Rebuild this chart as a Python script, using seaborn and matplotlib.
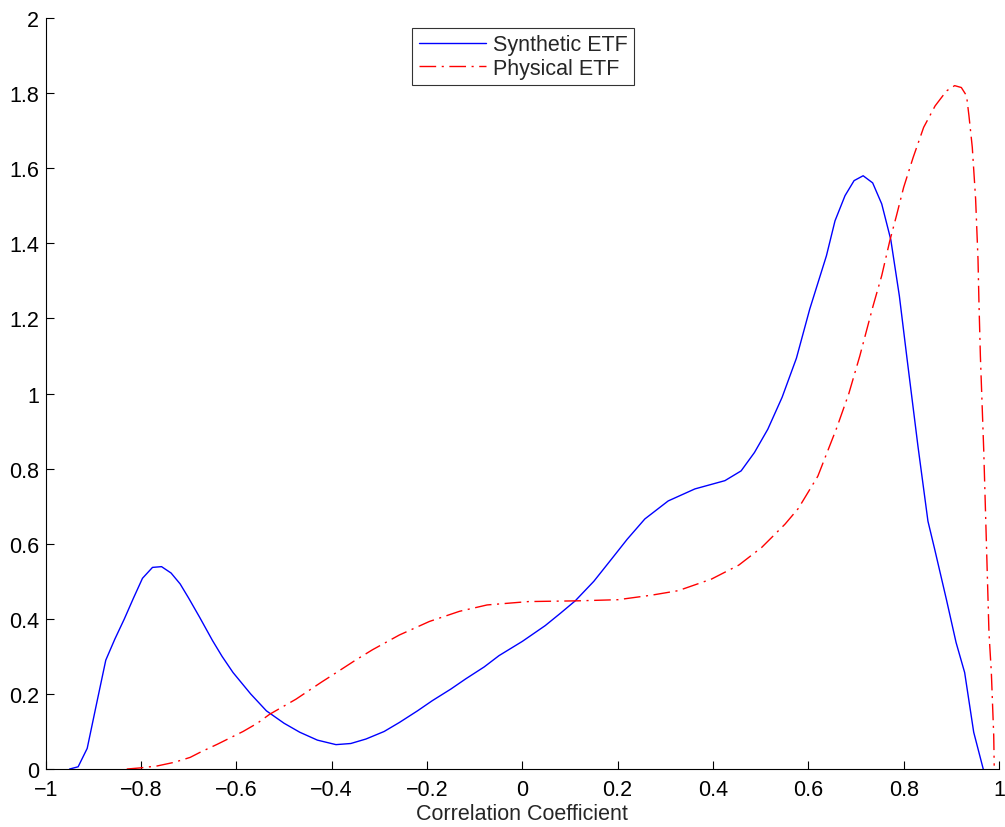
import numpy as np
import pandas as pd
import matplotlib
matplotlib.use("Agg")
import matplotlib.pyplot as plt
import seaborn as sns

# Synthetic ETF density
syn_x = [-0.95, -0.932, -0.913, -0.894, -0.874, -0.855, -0.835, -0.816, -0.797, -0.776,
         -0.757, -0.737, -0.718, -0.70, -0.677, -0.65, -0.63, -0.607, -0.57, -0.537,
         -0.50, -0.467, -0.43, -0.391, -0.36, -0.328, -0.29, -0.258, -0.22, -0.189,
         -0.15, -0.119, -0.08, -0.049, 0.0, 0.048, 0.08, 0.111, 0.15, 0.187,
         0.22, 0.257, 0.306, 0.362, 0.425, 0.459, 0.487, 0.515, 0.545, 0.575,
         0.603, 0.638, 0.656, 0.677, 0.696, 0.715, 0.735, 0.754, 0.773, 0.791,
         0.807, 0.83, 0.851, 0.865, 0.89, 0.91, 0.928, 0.947, 0.967]
syn_y = [0.0, 0.006, 0.055, 0.17, 0.29, 0.346, 0.40, 0.455, 0.508, 0.537,
         0.539, 0.522, 0.493, 0.455, 0.404, 0.342, 0.30, 0.257, 0.20, 0.155,
         0.122, 0.098, 0.077, 0.065, 0.068, 0.08, 0.10, 0.124, 0.155, 0.182,
         0.213, 0.24, 0.272, 0.302, 0.34, 0.382, 0.415, 0.448, 0.50, 0.559,
         0.612, 0.666, 0.714, 0.746, 0.768, 0.794, 0.843, 0.905, 0.99, 1.094,
         1.225, 1.367, 1.46, 1.527, 1.567, 1.58, 1.561, 1.505, 1.41, 1.26,
         1.094, 0.86, 0.66, 0.586, 0.45, 0.337, 0.257, 0.098, 0.0]

# Physical ETF density
phy_x = [-0.83, -0.802, -0.767, -0.73, -0.697, -0.677, -0.64, -0.613, -0.586, -0.556,
         -0.53, -0.475, -0.422, -0.384, -0.35, -0.314, -0.258, -0.195, -0.132, -0.074,
         0.013, 0.118, 0.201, 0.271, 0.327, 0.397, 0.454, 0.502, 0.551, 0.579,
         0.62, 0.66, 0.685, 0.708, 0.736, 0.754, 0.771, 0.785, 0.80, 0.82,
         0.842, 0.866, 0.89, 0.907, 0.921, 0.932, 0.937, 0.944, 0.951, 0.956,
         0.958, 0.961, 0.968, 0.974, 0.979, 0.984, 0.989, 0.99]
phy_y = [0.0, 0.003, 0.008, 0.018, 0.031, 0.044, 0.066, 0.083, 0.10, 0.122,
         0.146, 0.186, 0.231, 0.262, 0.29, 0.318, 0.357, 0.393, 0.42, 0.437,
         0.446, 0.448, 0.451, 0.463, 0.475, 0.506, 0.543, 0.59, 0.652, 0.694,
         0.78, 0.91, 1.0, 1.10, 1.234, 1.314, 1.407, 1.474, 1.549, 1.629,
         1.709, 1.766, 1.806, 1.82, 1.815, 1.793, 1.74, 1.656, 1.518, 1.358,
         1.243, 1.10, 0.85, 0.586, 0.364, 0.257, 0.089, 0.009]

series_names = ["Synthetic ETF", "Physical ETF"]
x_ticks = [-1, -0.8, -0.6, -0.4, -0.2, 0, 0.2, 0.4, 0.6, 0.8, 1]
x_ticklabels = ["\u22121", "\u22120.8", "\u22120.6", "\u22120.4", "\u22120.2", "0",
                "0.2", "0.4", "0.6", "0.8", "1"]
y_ticks = [0, 0.2, 0.4, 0.6, 0.8, 1, 1.2, 1.4, 1.6, 1.8, 2]
y_ticklabels = ["0", "0.2", "0.4", "0.6", "0.8", "1", "1.2", "1.4", "1.6", "1.8", "2"]

sns.set_style("white")
plt.rcParams['font.family'] = ['Liberation Sans', 'DejaVu Sans']

FS = 15.5

fig = plt.figure(figsize=(10.05, 8.28), dpi=100)
ax = fig.add_axes([0.0455, 0.07, 0.9485, 0.907])

df_syn = pd.DataFrame({"x": syn_x, "y": syn_y})
df_phy = pd.DataFrame({"x": phy_x, "y": phy_y})

sns.lineplot(data=df_syn, x="x", y="y", ax=ax, color=(0, 0, 1), lw=1.0,
             label=series_names[0], sort=False)
sns.lineplot(data=df_phy, x="x", y="y", ax=ax, color=(1, 0, 0), lw=1.0,
             linestyle=(0, (12, 4, 1.5, 4)), label=series_names[1], sort=False)

ax.set_xlim(-1, 1)
ax.set_ylim(0, 2)
ax.set_xticks(x_ticks)
ax.set_xticklabels(x_ticklabels)
ax.set_yticks(y_ticks)
ax.set_yticklabels(y_ticklabels)
ax.tick_params(axis='both', direction='in', length=6, width=0.8, labelsize=FS,
               colors='black', left=True, bottom=True)
ax.tick_params(axis='x', pad=7)
ax.tick_params(axis='y', pad=5)
ax.set_xlabel("Correlation Coefficient", fontsize=FS, labelpad=2)
ax.set_ylabel("")

for side in ["top", "right"]:
    ax.spines[side].set_visible(False)
for side in ["left", "bottom"]:
    ax.spines[side].set_visible(True)
    ax.spines[side].set_color("black")
    ax.spines[side].set_linewidth(0.8)

leg = ax.legend(loc="upper center", bbox_to_anchor=(0.501, 0.987), fontsize=FS,
                frameon=True, fancybox=False, shadow=False, handlelength=3.1,
                borderpad=0.3, labelspacing=0.12, handletextpad=0.35,
                borderaxespad=0.0)
leg.get_frame().set_edgecolor("black")
leg.get_frame().set_linewidth(0.8)

fig.savefig("out.png", dpi=100)
